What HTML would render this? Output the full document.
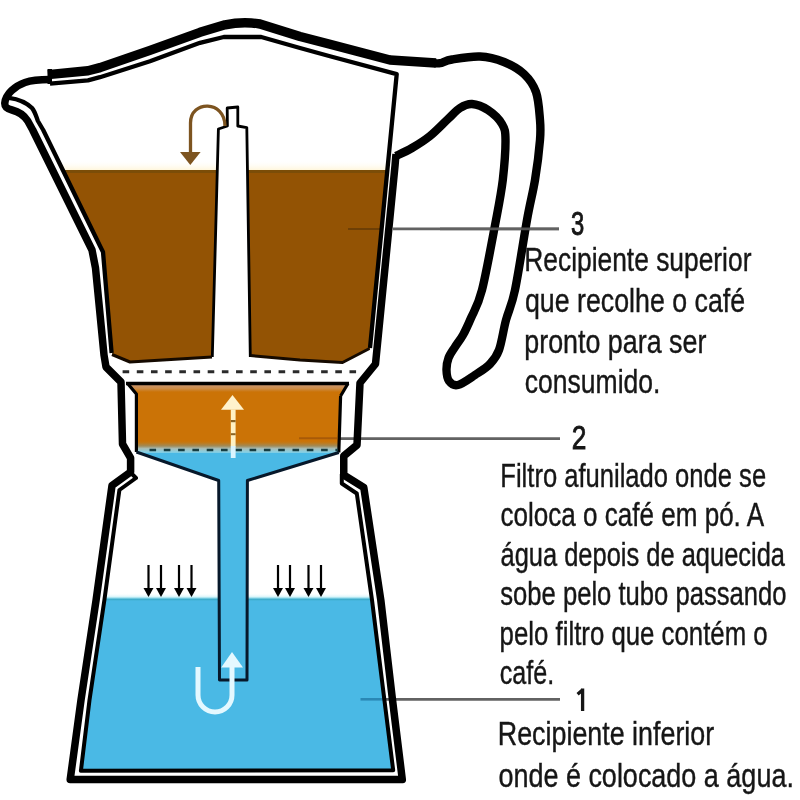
<!DOCTYPE html>
<html><head><meta charset="utf-8"><style>
html,body{margin:0;padding:0;background:#fff;width:800px;height:800px;overflow:hidden}
svg{display:block;filter:blur(0.6px)}
text{font-family:"Liberation Sans",sans-serif;fill:#161616;stroke:#161616;stroke-width:0.4px}
</style></head><body>
<svg width="800" height="800" viewBox="0 0 800 800">
<rect width="800" height="800" fill="#fff"/>
<!-- fills -->
<path d="M62,170 L387.5,170 L370,349 L342.5,362.5 L300,360 L250.5,355.5 L212,357 L130,362 L112.5,355 L103,252 Z" fill="#935304"/>
<defs><linearGradient id="glow" x1="0" y1="160" x2="0" y2="170" gradientUnits="userSpaceOnUse"><stop offset="0" stop-color="#fff" stop-opacity="0"/><stop offset="1" stop-color="#fff6dc"/></linearGradient></defs>
<path d="M57,160 L389,160 L388,170 L62,170 Z" fill="url(#glow)"/>
<line x1="62" y1="171.6" x2="388" y2="171.6" stroke="#7b4d08" stroke-width="3"/>
<path d="M128,384 L348,384 L341,396 L339,447 L136,447 L136,394 Z" fill="#cb7306"/>
<defs><linearGradient id="tan" x1="0" y1="385" x2="0" y2="392" gradientUnits="userSpaceOnUse"><stop offset="0" stop-color="#c8946c"/><stop offset="0.5" stop-color="#cc8c48"/><stop offset="1" stop-color="#cb7306"/></linearGradient></defs>
<path d="M130,385 L346,385 L342,392 L136.4,392 L136.4,392 Z" fill="url(#tan)"/>
<defs><linearGradient id="ob" x1="0" y1="441" x2="0" y2="456" gradientUnits="userSpaceOnUse">
<stop offset="0" stop-color="#cb7306"/><stop offset="0.13" stop-color="#c07a1a"/><stop offset="0.33" stop-color="#a08a58"/>
<stop offset="0.5" stop-color="#a8bcb4"/><stop offset="0.73" stop-color="#88d0e4"/><stop offset="1" stop-color="#4ab9e5"/></linearGradient></defs>
<path d="M137.5,446 L338,446 L338,452.5 L247,480 L247,680 L219,680 L219,480 L137.5,452 Z" fill="#4ab9e5"/>
<rect x="137" y="441" width="202" height="12" fill="url(#ob)"/>
<defs><linearGradient id="wg" x1="0" y1="593" x2="0" y2="601" gradientUnits="userSpaceOnUse"><stop offset="0" stop-color="#fff" stop-opacity="0"/><stop offset="0.5" stop-color="#d4f4fa"/><stop offset="0.65" stop-color="#7fd0e4"/><stop offset="0.8" stop-color="#3eacca"/><stop offset="1" stop-color="#4ab9e5"/></linearGradient></defs>
<path d="M104,598 L372.5,598 L384.4,700 L393.2,770.3 L80.9,770.8 L89.5,700 Z" fill="#4ab9e5"/>
<path d="M104.6,593 L219,593 L219,601 L104,601 Z M247,593 L372,593 L373,601 L247,601 Z" fill="url(#wg)"/>

<line x1="348" y1="228.9" x2="381" y2="228.9" stroke="#6e3f05" stroke-width="2"/>
<line x1="299" y1="438.3" x2="337" y2="438.3" stroke="#a85a08" stroke-width="2"/>
<line x1="360.5" y1="699.3" x2="385" y2="699.3" stroke="#2a88b5" stroke-width="2.6"/>
<!-- leader lines -->
<g stroke="#626262" stroke-width="2.8">
  <line x1="393" y1="228.9" x2="559" y2="228.9"/>
  <line x1="338" y1="438.7" x2="560" y2="438.7"/>
  <line x1="384" y1="699.3" x2="560" y2="699.3"/>
</g>
<!-- outlines -->
<g fill="none" stroke="#000" stroke-linejoin="round">
  <path stroke-width="9.4" d="M48,74.6 L88,70.8 L100,67.6 L150,50.4 L200,32.3 L225,24.8 Q243,21.2 260,24 L300,36.5 L330,44.3 L390,60 L436,63"/>
  <path stroke-width="8.4" d="M434.0,63.0 C435.0,63.0 437.0,63.8 440.0,63.2 C443.0,62.6 445.3,60.6 452.0,59.5 C458.7,58.4 471.3,56.1 480.0,56.5 C488.7,56.9 496.7,59.1 504.0,62.0 C511.3,64.9 518.7,69.0 524.0,74.0 C529.3,79.0 533.3,84.3 536.0,92.0 C538.7,99.7 539.3,112.0 540.0,120.0 C540.7,128.0 540.8,130.0 540.0,140.0 C539.2,150.0 537.2,166.7 535.0,180.0 C532.8,193.3 530.3,201.7 527.0,220.0 C523.7,238.3 518.5,273.3 515.0,290.0 C511.5,306.7 508.7,310.0 506.0,320.0 C503.3,330.0 501.7,342.7 499.0,350.0 C496.3,357.3 494.0,359.8 490.0,364.0 C486.0,368.2 480.3,371.5 475.0,375.0 C469.7,378.5 462.3,384.0 458.0,385.0 C453.7,386.0 450.9,383.5 449.0,381.0 C447.1,378.5 446.6,373.8 446.5,370.0 C446.4,366.2 447.1,361.8 448.5,358.0 C449.9,354.2 452.6,350.8 455.0,347.0 C457.4,343.2 460.3,339.8 463.0,335.0 C465.7,330.2 467.8,325.5 471.0,318.0 C474.2,310.5 477.8,306.3 482.0,290.0 C486.2,273.7 492.5,238.3 496.0,220.0 C499.5,201.7 501.2,193.3 502.8,180.0 C504.3,166.7 505.6,149.3 505.5,140.0 C505.4,130.7 504.9,129.0 502.0,124.0 C499.1,119.0 493.0,113.3 488.0,110.0 C483.0,106.7 476.7,104.3 472.0,104.0 C467.3,103.7 464.0,105.5 460.0,108.0 C456.0,110.5 453.0,114.3 448.0,119.0 C443.0,123.7 436.0,131.2 430.0,136.0 C424.0,140.8 417.7,144.7 412.0,148.0 C406.3,151.3 398.7,154.7 396.0,156.0"/>
  <path stroke-width="7.5" d="M396,154 L395,166 L375.5,364 L360,383 L357,445 L343.75,456 L343.75,475 L363.8,487.5 L380.8,600 L392.5,700 L402.3,779.6 L70.2,779.6 L81,700 L96.1,600 L112,485.5 L130.6,472 L130.6,458 L122.5,444 L121,382 L106,367 L104,355 L95.5,268 L92,250 L32.7,130 L27.75,121 C24,115 18,111.5 12,110 C6,108.5 4.6,106.5 4.8,103 C5.5,94 15,86 25,82.5 C32,80 40,79.5 50,79.5"/>
  <path stroke-width="4.3" d="M50,83.6 L88,80.4 L100,77.2 L150,61.3 L200,42.8 L223.75,37 L261.25,37 L300,48 L330,56.3 L396.7,74.2 L370,348"/>
  <path stroke-width="4.3" d="M9,97.8 C19,99.2 27,103 32,108 C35,111.5 36,116 37.9,121 L43.2,130 L101,248 L103,252 L111.6,353"/>
  <path stroke-width="4" d="M131,473 L136,478 L119.4,490 L104.4,600 L89.5,700 L80.9,770.8 L393.2,770.3 L384.4,700 L372,600 L356.8,493.5 L341.8,483.5 L341.8,474"/>
</g>
<rect x="47.5" y="69" width="4.5" height="15" fill="#000"/>

<line x1="440" y1="228.9" x2="559" y2="228.9" stroke="#626262" stroke-width="2.6" opacity="0.8"/>
<!-- upper tube -->
<path d="M227.2,108 L237.8,107 L237.8,126 L246.8,127.6 L250.3,357 L212.3,357 L218.4,129 L227.4,126 Z" fill="#fff"/>
<path d="M250.3,357 L246.8,127.6 L237.8,126 L237.8,107 L227.2,108 L227.4,126 L218.4,129 L212.3,357" fill="none" stroke="#000" stroke-width="2.8" stroke-linejoin="round"/>
<path d="M112,354.5 L130,362 L212,357 M250.5,355.5 L300,360 L342.5,362.5 L369.5,348.5" fill="none" stroke="#150a00" stroke-width="3" stroke-linejoin="round"/>

<!-- dashed line upper band -->
<line x1="122.6" y1="371.8" x2="358" y2="371.8" stroke="#2a2a2a" stroke-width="2.9" stroke-dasharray="6.6 7.58"/>

<!-- filter outline -->
<path d="M126,383.5 L349,383.5" stroke="#000" stroke-width="3.5"/>
<path d="M127.6,383.5 L136.4,394 L136.4,452 M340.6,396 L348,383.5 M338.8,452.5 L340.6,396" fill="none" stroke="#000" stroke-width="3.2" stroke-linejoin="round"/>
<path d="M136.4,452 L218.7,480.5 L219.5,680 L247,680 L247.4,480.5 L338.8,452.5" fill="none" stroke="#07182a" stroke-width="3" stroke-linejoin="round"/>
<line x1="149.5" y1="450" x2="338" y2="450" stroke="#163c40" stroke-width="2.6" stroke-dasharray="6.6 7.7"/>

<!-- brown curved arrow -->
<path d="M225,126 C225,100 190.5,100 190.5,123 L190.5,153" fill="none" stroke="#7d5420" stroke-width="3.3"/>
<polygon points="180,152 200.6,152 190.3,165" fill="#7d5420"/>

<!-- dashed white arrow in filter -->
<polygon points="232.5,395 221,409.8 244,409.8" fill="#fff2cc"/>
<rect x="230.8" y="409.5" width="4.8" height="37" fill="#fff2c4"/>
<rect x="230.8" y="446" width="4.8" height="12" fill="#d8f4ff"/>
<rect x="230.8" y="420" width="4.8" height="2.2" fill="#8a6424"/>
<rect x="230.8" y="433.2" width="4.8" height="2" fill="#8a6424"/>
<!-- U arrow -->
<path d="M198,667 L198,695 A17,17 0 0 0 232,695 L232,666" fill="none" stroke="#e4f8ff" stroke-width="5"/>
<polygon points="221.2,667.5 243,667.5 232,652" fill="#e4f8ff"/>

<!-- small down arrows -->
<g stroke="#000" stroke-width="2.2" fill="#000">
  <line x1="148.5" y1="565" x2="148.5" y2="589"/><polygon stroke="none" points="143.5,588 153.5,588 148.5,597"/>
  <line x1="161" y1="565" x2="161" y2="589"/><polygon stroke="none" points="156,588 166,588 161,597"/>
  <line x1="179" y1="565" x2="179" y2="589"/><polygon stroke="none" points="174,588 184,588 179,597"/>
  <line x1="191.5" y1="565" x2="191.5" y2="589"/><polygon stroke="none" points="186.5,588 196.5,588 191.5,597"/>
  <line x1="278" y1="565" x2="278" y2="589"/><polygon stroke="none" points="273,588 283,588 278,597"/>
  <line x1="290" y1="565" x2="290" y2="589"/><polygon stroke="none" points="285,588 295,588 290,597"/>
  <line x1="308.5" y1="565" x2="308.5" y2="589"/><polygon stroke="none" points="303.5,588 313.5,588 308.5,597"/>
  <line x1="321" y1="565" x2="321" y2="589"/><polygon stroke="none" points="316,588 326,588 321,597"/>
</g>
<text x="571.1" y="235.0" style="font-size:33px;stroke-width:0.9px" textLength="13.25" lengthAdjust="spacingAndGlyphs">3</text>
<text x="524.25" y="270.7" style="font-size:32.5px" textLength="227.16" lengthAdjust="spacingAndGlyphs">Recipiente superior</text>
<text x="524.89" y="311.5" style="font-size:32.5px" textLength="220.27" lengthAdjust="spacingAndGlyphs">que recolhe o café</text>
<text x="524.26" y="352.5" style="font-size:32.5px" textLength="182.15" lengthAdjust="spacingAndGlyphs">pronto para ser</text>
<text x="524.86" y="393.3" style="font-size:32.5px" textLength="135.59" lengthAdjust="spacingAndGlyphs">consumido.</text>
<text x="571.68" y="448.8" style="font-size:34px;stroke-width:0.9px" textLength="14.64" lengthAdjust="spacingAndGlyphs">2</text>
<text x="500.32" y="487" style="font-size:32.5px" textLength="265.79" lengthAdjust="spacingAndGlyphs">Filtro afunilado onde se</text>
<text x="500.48" y="526" style="font-size:32.5px" textLength="263.57" lengthAdjust="spacingAndGlyphs">coloca o café em pó. A</text>
<text x="500.5" y="565.8" style="font-size:32.5px" textLength="284.52" lengthAdjust="spacingAndGlyphs">água depois de aquecida</text>
<text x="500.29" y="604.8" style="font-size:32.5px" textLength="286.18" lengthAdjust="spacingAndGlyphs">sobe pelo tubo passando</text>
<text x="499.58" y="644.5" style="font-size:32.5px" textLength="268.12" lengthAdjust="spacingAndGlyphs">pelo filtro que contém o</text>
<text x="499.72" y="683.8" style="font-size:32.5px" textLength="54.47" lengthAdjust="spacingAndGlyphs">café.</text>
<path d="M582.6,688.5 L582.6,711 M583,689.5 L577.6,694.2" stroke="#161616" stroke-width="3.3" fill="none"/>
<text x="497.81" y="744.5" style="font-size:32.5px" textLength="216.38" lengthAdjust="spacingAndGlyphs">Recipiente inferior</text>
<text x="498.38" y="787" style="font-size:32.5px" textLength="295.51" lengthAdjust="spacingAndGlyphs">onde é colocado a água.</text>
</svg>
</body></html>
